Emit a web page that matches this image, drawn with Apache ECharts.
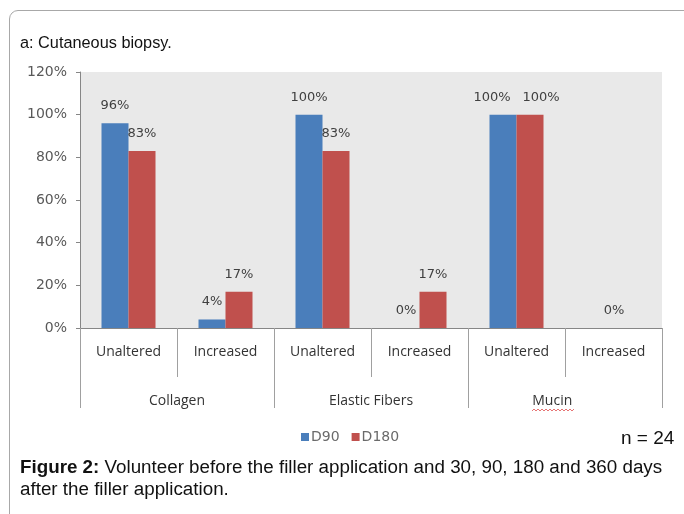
<!DOCTYPE html>
<html>
<head>
<meta charset="utf-8">
<script src="https://cdn.jsdelivr.net/npm/echarts@6/dist/echarts.min.js"></script>
<style>
  html, body { margin: 0; padding: 0; background: #fff; }
  #wrap { position: relative; width: 684px; height: 514px; overflow: hidden; font-family: "Liberation Sans", Arial, sans-serif; }
  #frame { position: absolute; left: 9px; top: 10px; width: 700px; height: 520px; border: 1px solid #a8a8a8; border-top-left-radius: 9px; box-sizing: border-box; }
  #chart { position: absolute; left: 0; top: 0; width: 684px; height: 514px; }
  #sub { position: absolute; left: 20px; top: 33px; font-size: 16.3px; color: #111; }
  #caption { position: absolute; left: 20px; top: 456px; width: 660px; font-size: 18.8px; line-height: 22px; color: #111; }
  #caption b { font-weight: bold; }
</style>
</head>
<body>
<div id="wrap">
  <div id="frame"></div>
  <div id="chart"></div>
  <div id="sub">a: Cutaneous biopsy.</div>
  <div id="caption"><b>Figure 2:</b> Volunteer before the filler application and 30, 90, 180 and 360 days after the filler application.</div>
</div>
<script>
// sub-categories and groups
const subCategories = ['Unaltered', 'Increased', 'Unaltered', 'Increased', 'Unaltered', 'Increased'];
const groups = ['Collagen', 'Elastic Fibers', 'Mucin'];
const yTicks = [0, 20, 40, 60, 80, 100, 120];

// percentages
const d90 = [96, 4, 100, 0, 100, 0];
const d180 = [83, 17, 83, 17, 100, 0];

const chart = echarts.init(document.getElementById('chart'));

const labelStyle = {
  show: true,
  position: 'top',
  distance: 11,
  formatter: '{c}%',
  fontSize: 13,
  fontFamily: 'DejaVu Sans',
  color: '#404040'
};

// Mucin labels are nudged apart; the last group shows one 0% label between the bars
const d90Data = d90.map((v, i) => {
  if (i === 4) return { value: v, label: { offset: [-11, 0] } };
  if (i === 5) return { value: v, label: { offset: [14, 0] } };
  return v;
});
const d180Data = d180.map((v, i) => {
  if (i === 4) return { value: v, label: { offset: [11, 0] } };
  if (i === 5) return { value: v, label: { show: false } };
  return v;
});

chart.setOption({
  animation: false,
  grid: {
    left: 80, right: 22, top: 72, bottom: 186,
    show: true, backgroundColor: '#e9e9e9', borderWidth: 0
  },
  legend: {
    left: 296, top: 425,
    itemWidth: 8, itemHeight: 8, itemGap: 12,
    icon: 'rect',
    textStyle: { fontSize: 14, color: '#6a6a6a', fontFamily: 'DejaVu Sans', padding: [0, 0, 0, -3] },
    data: ['D90', 'D180']
  },
  graphic: [
    {
      type: 'text', left: 621, top: 429,
      style: { text: 'n = 24', fontSize: 19, fontFamily: 'Liberation Sans', fill: '#111' }
    },
    {
      type: 'polyline', silent: true,
      shape: { points: [[532, 411], [534, 409], [536, 411], [538, 409], [540, 411], [542, 409], [544, 411], [546, 409], [548, 411], [550, 409], [552, 411], [554, 409], [556, 411], [558, 409], [560, 411], [562, 409], [564, 411], [566, 409], [568, 411], [570, 409], [572, 411], [574, 409]] },
      style: { stroke: '#e05050', lineWidth: 0.8, fill: null }
    }
  ],
  xAxis: [
    {
      type: 'category',
      data: subCategories,
      axisLine: { show: true, lineStyle: { color: '#868686' } },
      axisTick: { show: true, length: 49, lineStyle: { color: '#a0a0a0' } },
      axisLabel: { interval: 0, margin: 17, fontSize: 14, color: '#333', fontFamily: 'Open Sans' }
    },
    {
      type: 'category',
      position: 'bottom',
      data: groups,
      axisLine: { show: false },
      axisTick: { show: true, length: 80, lineStyle: { color: '#a0a0a0' } },
      axisLabel: {
        interval: 0, margin: 66, fontSize: 14, color: '#333', fontFamily: 'Open Sans',
        formatter: (v) => v === 'Mucin' ? v + '       ' : v
      }
    }
  ],
  yAxis: {
    type: 'value',
    min: yTicks[0],
    max: yTicks[yTicks.length - 1],
    interval: 20,
    splitLine: { show: false },
    axisLine: { show: true, lineStyle: { color: '#868686' } },
    axisTick: { show: true, length: 4, lineStyle: { color: '#868686' } },
    axisLabel: { formatter: '{value}%', margin: 13, fontSize: 14, color: '#595959', fontFamily: 'DejaVu Sans' }
  },
  series: [
    {
      name: 'D90', type: 'bar', data: d90Data,
      barWidth: 27, barGap: '0%',
      itemStyle: { color: '#4a7ebb' },
      label: labelStyle
    },
    {
      name: 'D180', type: 'bar', data: d180Data,
      barWidth: 27,
      itemStyle: { color: '#c0504d' },
      label: labelStyle
    }
  ]
});
</script>
</body>
</html>
